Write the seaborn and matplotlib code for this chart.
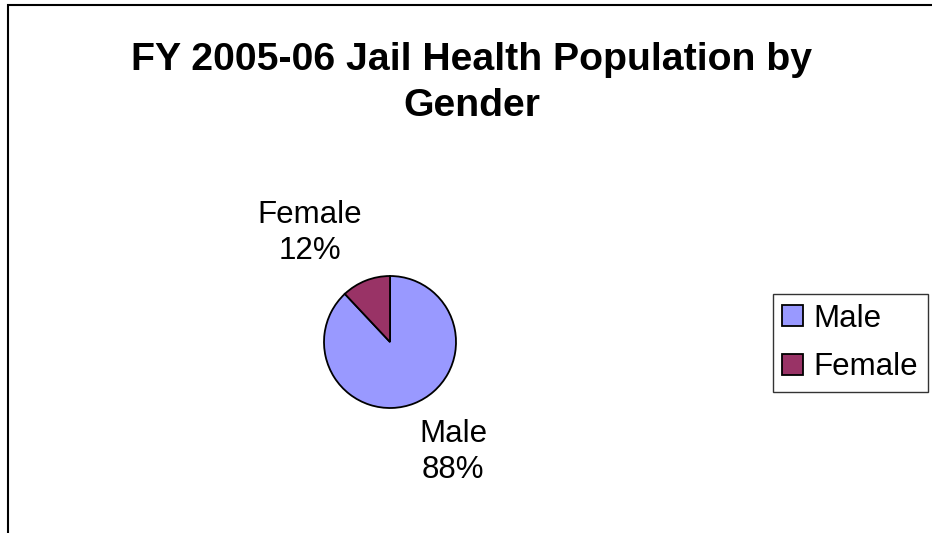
import matplotlib
matplotlib.use("Agg")
import seaborn as sns
from matplotlib import pyplot as plt
from matplotlib.patches import Rectangle

categories = ['Male', 'Female']
shares = [88, 12]
pct_labels = ['88%', '12%']
colors = ['#9999FF', '#993366']

sns.set_theme(style='white')
plt.rcParams['font.family'] = ['Liberation Sans', 'DejaVu Sans']
plt.rcParams['text.color'] = 'black'

fig = plt.figure(figsize=(9.32, 5.33), dpi=100)
fig.patch.set_facecolor('white')

# outer chart frame (only left and top edges visible in the reference)
fig.patches.append(Rectangle((8 / 932, -0.05), 1.2, 1 - 5 / 533 + 0.05,
                             transform=fig.transFigure, fill=False,
                             edgecolor='black', linewidth=1.5))

ax = fig.add_axes([0, 0, 1, 1])

wedges, _ = ax.pie(shares, colors=colors, startangle=90, counterclock=False,
                   center=(390, 191), radius=66, frame=True,
                   wedgeprops={'edgecolor': 'black', 'linewidth': 1.3})
ax.set_xlim(0, 932)
ax.set_ylim(0, 533)
ax.axis('off')

ax.text(453, 533 - 452, categories[0] + '\n' + pct_labels[0], ha='center', va='center',
        fontsize=22.5, linespacing=1.25)
ax.text(310, 533 - 233, categories[1] + '\n' + pct_labels[1], ha='center', va='center',
        fontsize=22.5, linespacing=1.25)

fig.text(0.506, 1 - 83 / 533, 'FY 2005-06 Jail Health Population by\nGender',
         ha='center', va='center', fontsize=28.3, fontweight='bold', linespacing=1.35)

leg = ax.legend(wedges, categories, loc='center left',
                bbox_to_anchor=(773 / 932, 1 - 343 / 533), bbox_transform=fig.transFigure,
                fontsize=22.5, frameon=True, fancybox=False, handlelength=0.65,
                handleheight=0.65, handletextpad=0.35, borderpad=0.3,
                labelspacing=0.6, borderaxespad=0)
leg.get_frame().set_edgecolor('black')
leg.get_frame().set_linewidth(1.0)
for t in leg.get_texts():
    t.set_color('black')

fig.savefig('out.png', dpi=100, facecolor='white')
